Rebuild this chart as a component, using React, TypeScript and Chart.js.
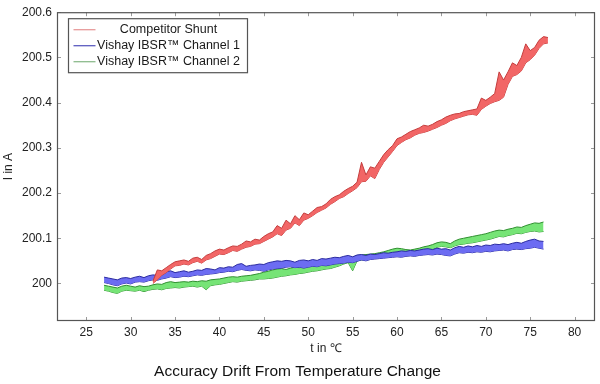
import React, { useEffect, useRef } from "react";
import { Chart, registerables } from "chart.js";

Chart.register(...registerables);

const temps = [
  27.0, 27.5, 28.0, 28.5, 29.0, 29.5, 30.0, 30.5, 31.0, 31.5,
  32.0, 32.5, 33.0, 33.5, 34.0, 34.5, 35.0, 35.5, 36.0, 36.5,
  37.0, 37.5, 38.0, 38.5, 39.0, 39.5, 40.0, 40.5, 41.0, 41.5,
  42.0, 42.5, 43.0, 43.5, 44.0, 44.5, 45.0, 45.5, 46.0, 46.5,
  47.0, 47.5, 48.0, 48.5, 49.0, 49.5, 50.0, 50.5, 51.0, 51.5,
  52.0, 52.5, 53.0, 53.5, 54.0, 54.5, 55.0, 55.5, 56.0, 56.5,
  57.0, 57.5, 58.0, 58.5, 59.0, 59.5, 60.0, 60.5, 61.0, 61.5,
  62.0, 62.5, 63.0, 63.5, 64.0, 64.5, 65.0, 65.5, 66.0, 66.5,
  67.0, 67.5, 68.0, 68.5, 69.0, 69.5, 70.0, 70.5, 71.0, 71.5,
  72.0, 72.5, 73.0, 73.5, 74.0, 74.5, 75.0, 75.5, 76.0, 76.5,
  77.0,
];

const competitorUpper = [
  null, null, null, null, null, null, null, null, null, null,
  null, 200.005, 200.030, 200.028, 200.035, 200.042, 200.048, 200.050, 200.052, 200.049,
  200.056, 200.058, 200.053, 200.062, 200.066, 200.072, 200.076, 200.074, 200.079, 200.083,
  200.082, 200.087, 200.094, 200.092, 200.098, 200.096, 200.104, 200.110, 200.114, 200.128,
  200.122, 200.140, 200.132, 200.150, 200.141, 200.156, 200.152, 200.160, 200.168, 200.170,
  200.176, 200.186, 200.192, 200.196, 200.204, 200.210, 200.215, 200.224, 200.268, 200.240,
  200.258, 200.255, 200.270, 200.285, 200.296, 200.305, 200.320, 200.324, 200.330, 200.336,
  200.340, 200.344, 200.350, 200.348, 200.352, 200.358, 200.362, 200.368, 200.372, 200.375,
  200.376, 200.380, 200.382, 200.384, 200.386, 200.410, 200.405, 200.412, 200.420, 200.468,
  200.450, 200.468, 200.488, 200.482, 200.500, 200.530, 200.515, 200.522, 200.538, 200.546,
  200.544,
];
const competitorLower = [
  null, null, null, null, null, null, null, null, null, null,
  null, 200.000, 200.008, 200.018, 200.024, 200.032, 200.039, 200.040, 200.043, 200.041,
  200.046, 200.049, 200.045, 200.052, 200.055, 200.060, 200.065, 200.064, 200.068, 200.073,
  200.071, 200.076, 200.080, 200.082, 200.087, 200.088, 200.093, 200.098, 200.103, 200.110,
  200.106, 200.118, 200.122, 200.134, 200.128, 200.140, 200.144, 200.150, 200.157, 200.162,
  200.167, 200.175, 200.181, 200.188, 200.192, 200.199, 200.205, 200.212, 200.225, 200.226,
  200.238, 200.232, 200.252, 200.268, 200.280, 200.292, 200.305, 200.312, 200.318, 200.322,
  200.328, 200.332, 200.334, 200.337, 200.341, 200.345, 200.350, 200.354, 200.360, 200.364,
  200.367, 200.370, 200.373, 200.374, 200.372, 200.385, 200.392, 200.398, 200.402, 200.405,
  200.412, 200.440, 200.458, 200.462, 200.470, 200.488, 200.495, 200.505, 200.520, 200.530,
  200.532,
];

const channel1Upper = [
  200.014, 200.012, 200.010, 200.008, 200.012, 200.013, 200.011, 200.014, 200.016, 200.013,
  200.017, 200.019, 200.018, 200.023, 200.026, 200.028, 200.024, 200.026, 200.028, 200.025,
  200.027, 200.030, 200.029, 200.033, 200.032, 200.030, 200.035, 200.034, 200.037, 200.036,
  200.042, 200.044, 200.038, 200.040, 200.041, 200.043, 200.042, 200.046, 200.048, 200.050,
  200.049, 200.051, 200.050, 200.047, 200.051, 200.052, 200.050, 200.053, 200.051, 200.055,
  200.054, 200.056, 200.058, 200.057, 200.060, 200.062, 200.059, 200.063, 200.064, 200.062,
  200.065, 200.064, 200.066, 200.068, 200.067, 200.069, 200.070, 200.072, 200.071, 200.073,
  200.072, 200.074, 200.076, 200.077, 200.075, 200.078, 200.076, 200.077, 200.074, 200.079,
  200.082, 200.080, 200.083, 200.081, 200.084, 200.082, 200.085, 200.084, 200.087, 200.086,
  200.088, 200.086, 200.089, 200.091, 200.089, 200.093, 200.096, 200.098, 200.094, 200.093,
  null,
];
const channel1Lower = [
  200.002, 200.000, 199.997, 199.995, 199.999, 200.001, 199.999, 200.003, 200.004, 200.003,
  200.006, 200.008, 200.007, 200.010, 200.012, 200.015, 200.013, 200.014, 200.016, 200.015,
  200.017, 200.019, 200.018, 200.020, 200.021, 200.022, 200.024, 200.025, 200.027, 200.026,
  200.029, 200.031, 200.029, 200.028, 200.030, 200.029, 200.027, 200.030, 200.032, 200.033,
  200.034, 200.036, 200.037, 200.035, 200.036, 200.034, 200.036, 200.038, 200.037, 200.040,
  200.039, 200.041, 200.043, 200.044, 200.045, 200.047, 200.046, 200.049, 200.052, 200.050,
  200.053, 200.054, 200.055, 200.056, 200.057, 200.058, 200.059, 200.058, 200.060, 200.061,
  200.060, 200.062, 200.063, 200.064, 200.063, 200.065, 200.064, 200.062, 200.061, 200.065,
  200.068, 200.067, 200.069, 200.068, 200.070, 200.069, 200.071, 200.070, 200.072, 200.073,
  200.074, 200.072, 200.075, 200.076, 200.075, 200.077, 200.078, 200.080, 200.078, 200.076,
  null,
];

const channel2Upper = [
  199.996, 199.994, 199.992, 199.990, 199.994, 199.996, 199.994, 199.992, 199.995, 199.993,
  199.994, 199.997, 199.999, 199.998, 200.002, 200.004, 200.002, 200.003, 200.004, 200.003,
  200.005, 200.004, 200.006, 200.005, 200.008, 200.009, 200.010, 200.012, 200.014, 200.015,
  200.014, 200.016, 200.017, 200.018, 200.020, 200.022, 200.025, 200.027, 200.030, 200.032,
  200.033, 200.031, 200.034, 200.036, 200.035, 200.037, 200.039, 200.040, 200.042, 200.043,
  200.045, 200.046, 200.049, 200.052, 200.054, 200.057, 200.058, 200.062, 200.063, 200.064,
  200.065, 200.066, 200.068, 200.070, 200.073, 200.076, 200.078, 200.077, 200.075, 200.074,
  200.076, 200.078, 200.081, 200.083, 200.086, 200.090, 200.092, 200.091, 200.088, 200.094,
  200.098, 200.100, 200.102, 200.104, 200.106, 200.108, 200.110, 200.113, 200.116, 200.118,
  200.117, 200.120, 200.122, 200.125, 200.124, 200.128, 200.131, 200.134, 200.133, 200.136,
  null,
];
const channel2Lower = [
  199.985, 199.983, 199.980, 199.978, 199.983, 199.985, 199.984, 199.983, 199.985, 199.982,
  199.985, 199.987, 199.988, 199.986, 199.989, 199.990, 199.991, 199.990, 199.992, 199.993,
  199.994, 199.992, 199.994, 199.986, 199.995, 199.997, 199.998, 200.000, 200.002, 200.004,
  200.003, 200.005, 200.006, 200.007, 200.008, 200.010, 200.010, 200.011, 200.012, 200.014,
  200.016, 200.017, 200.019, 200.020, 200.022, 200.023, 200.025, 200.027, 200.028, 200.030,
  200.032, 200.033, 200.036, 200.039, 200.043, 200.046, 200.028, 200.050, 200.052, 200.054,
  200.055, 200.056, 200.058, 200.059, 200.061, 200.064, 200.066, 200.067, 200.068, 200.067,
  200.068, 200.069, 200.071, 200.072, 200.075, 200.080, 200.082, 200.081, 200.079, 200.083,
  200.086, 200.087, 200.089, 200.090, 200.092, 200.094, 200.096, 200.098, 200.101, 200.104,
  200.103, 200.106, 200.108, 200.111, 200.110, 200.113, 200.115, 200.116, 200.114, 200.115,
  null,
];

const seriesNames = ["Competitor Shunt", "Vishay IBSR™ Channel 1", "Vishay IBSR™ Channel 2"];
const xTicks = [25, 30, 35, 40, 45, 50, 55, 60, 65, 70, 75, 80];
const yTicks = [200, 200.1, 200.2, 200.3, 200.4, 200.5, 200.6];

const FONT = "'Liberation Sans', Arial, Helvetica, sans-serif";

const fills = ["rgba(242,102,102,1)", "rgba(108,108,242,1)", "rgba(118,228,118,1)"];
const edges = ["#c43c3c", "#2a2aa0", "#2f8f2f"];
const legendLine = ["#e79a9a", "#5c5cc0", "#8dbb8d"];

const toPts = (arr: (number | null)[]) => temps.map((t, i) => ({ x: t, y: arr[i] }));

const framePlugin = {
  id: "frameAndLegend",
  afterDraw(chart: any) {
    const { ctx, chartArea } = chart;
    const { left, right, top, bottom } = chartArea;
    const xs = chart.scales.x;
    const ys = chart.scales.y;
    ctx.save();
    ctx.strokeStyle = "#9a9a9a";
    ctx.lineWidth = 1;
    ctx.beginPath();
    xTicks.forEach((v) => {
      const px = Math.round(xs.getPixelForValue(v)) + 0.5;
      ctx.moveTo(px, bottom);
      ctx.lineTo(px, bottom - 4);
      ctx.moveTo(px, top);
      ctx.lineTo(px, top + 4);
    });
    yTicks.forEach((v) => {
      const py = Math.round(ys.getPixelForValue(v)) + 0.5;
      ctx.moveTo(left, py);
      ctx.lineTo(left + 4, py);
      ctx.moveTo(right, py);
      ctx.lineTo(right - 4, py);
    });
    ctx.stroke();
    ctx.strokeStyle = "#555";
    ctx.lineWidth = 1.2;
    ctx.strokeRect(left + 0.5, top + 0.5, right - left - 1, bottom - top - 1);
    const bx = left + 11.5;
    const by = top + 6.5;
    const bw = 179;
    const bh = 54;
    ctx.fillStyle = "#fff";
    ctx.fillRect(bx, by, bw, bh);
    ctx.strokeStyle = "#555";
    ctx.lineWidth = 1.2;
    ctx.strokeRect(bx, by, bw, bh);
    ctx.font = `12.5px ${FONT}`;
    ctx.textAlign = "center";
    ctx.textBaseline = "middle";
    seriesNames.forEach((name, i) => {
      const cy = by + 11 + i * 16;
      ctx.strokeStyle = legendLine[i];
      ctx.lineWidth = 1.3;
      ctx.beginPath();
      ctx.moveTo(bx + 5, cy);
      ctx.lineTo(bx + 27, cy);
      ctx.stroke();
      ctx.fillStyle = "#1a1a1a";
      ctx.fillText(name, bx + 100, cy);
    });
    ctx.restore();
  },
};

export default function App() {
  const ref = useRef<HTMLCanvasElement | null>(null);

  useEffect(() => {
    if (!ref.current) return;
    const band = (upper: (number | null)[], lower: (number | null)[], i: number) => [
      {
        label: seriesNames[i],
        data: toPts(upper),
        borderColor: edges[i],
        backgroundColor: fills[i],
        borderWidth: 1,
        pointRadius: 0,
        tension: 0,
        fill: "+1",
        spanGaps: false,
      },
      {
        label: seriesNames[i] + " lower",
        data: toPts(lower),
        borderColor: edges[i],
        backgroundColor: fills[i],
        borderWidth: 1,
        pointRadius: 0,
        tension: 0,
        fill: false,
        spanGaps: false,
      },
    ];
    const chart = new Chart(ref.current, {
      type: "line",
      data: {
        datasets: [
          ...band(competitorUpper, competitorLower, 0),
          ...band(channel1Upper, channel1Lower, 1),
          ...band(channel2Upper, channel2Lower, 2),
        ] as any,
      },
      options: {
        animation: false,
        responsive: false,
        events: [],
        layout: { padding: { top: 8, right: 5, left: 0, bottom: 0 } },
        plugins: {
          legend: { display: false },
          tooltip: { enabled: false },
          title: {
            display: true,
            position: "bottom",
            text: "Accuracy Drift From Temperature Change",
            color: "#111",
            font: { family: FONT, size: 15.5, weight: "normal" },
            padding: { top: 0, bottom: 2.7 },
          },
        },
        scales: {
          x: {
            type: "linear",
            min: 21.7,
            max: 82.3,
            grid: { display: false, drawTicks: false },
            border: { display: false },
            ticks: {
              stepSize: 5,
              includeBounds: false,
              padding: 4,
              color: "#222",
              font: { family: FONT, size: 12 },
              maxRotation: 0,
            },
            title: {
              display: true,
              text: "t in ℃",
              color: "#222",
              font: { family: FONT, size: 12 },
              padding: { top: 0, bottom: 6.5 },
            },
            afterFit: (s: any) => {
              s.height = 41.7;
            },
          },
          y: {
            type: "linear",
            min: 199.917,
            max: 200.6,
            grid: { display: false, drawTicks: false },
            border: { display: false },
            ticks: {
              stepSize: 0.1,
              includeBounds: false,
              padding: 5,
              color: "#222",
              font: { family: FONT, size: 12 },
              callback: (v: any) => String(Math.round(Number(v) * 10) / 10),
            },
            title: {
              display: true,
              text: "I in A",
              color: "#222",
              font: { family: FONT, size: 12 },
              padding: { top: 1, bottom: 0 },
            },
            afterFit: (s: any) => {
              s.width = 57;
            },
          },
        },
      } as any,
      plugins: [framePlugin],
    });
    return () => chart.destroy();
  }, []);

  return (
    <div style={{ position: "fixed", left: 0, top: 0, width: 600, height: 384, background: "#fff" }}>
      <canvas ref={ref} width={600} height={384} style={{ display: "block" }} />
    </div>
  );
}
